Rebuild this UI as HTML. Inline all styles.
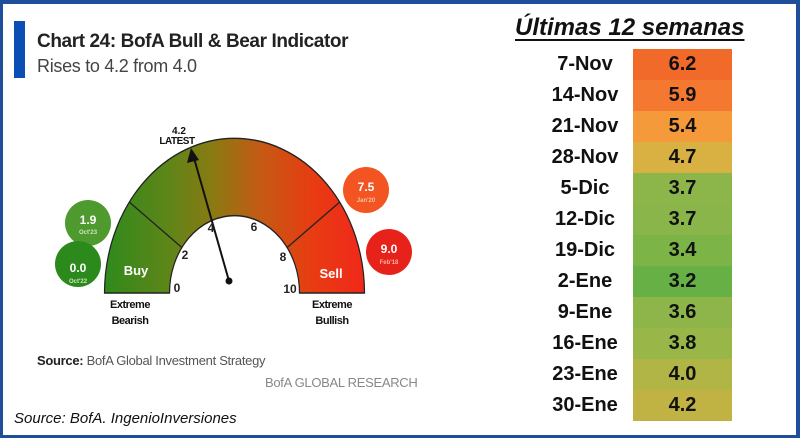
<!DOCTYPE html>
<html><head><meta charset="utf-8"><style>
html,body{margin:0;padding:0;background:#fff}
#w{position:relative;width:800px;height:438px;box-sizing:border-box;border:3px solid #1f4e9a;border-top-width:4px;border-right-width:4px;overflow:hidden;font-family:"Liberation Sans",sans-serif}
.t{position:absolute;white-space:nowrap}
.row{position:absolute;left:0;width:800px;height:31px;font-weight:bold;font-size:20px;color:#111}
.lab{position:absolute;left:525px;width:120px;text-align:center;top:4px}
.cell{position:absolute;left:633px;width:99px;height:31px;text-align:center;line-height:31px}
</style></head><body><div id="w">
<div style="position:absolute;left:11px;top:17px;width:11px;height:57px;background:#0b4fb5"></div>
<div class="t" style="left:34px;top:27px;font-size:19px;font-weight:bold;color:#222;letter-spacing:-0.4px">Chart 24: BofA Bull &amp; Bear Indicator</div>
<div class="t" style="left:34px;top:52px;font-size:18px;color:#444;letter-spacing:-0.3px">Rises to 4.2 from 4.0</div>
<svg width="800" height="438" style="position:absolute;left:-3px;top:-4px">
<defs><linearGradient id="g" x1="-130" y1="0" x2="130" y2="0" gradientUnits="userSpaceOnUse">
<stop offset="0" stop-color="#2f8a1c"/><stop offset="0.25" stop-color="#5f8518"/><stop offset="0.42" stop-color="#8a7a12"/><stop offset="0.6" stop-color="#c45a14"/><stop offset="0.8" stop-color="#e83c12"/><stop offset="1" stop-color="#f0281a"/></linearGradient></defs>
<g transform="translate(234.5,293) scale(1,1.19)">
<path d="M-130,0 A130,130 0 0 1 130,0 L65,0 A65,65 0 0 0 -65,0 Z" fill="url(#g)" stroke="#222" stroke-width="1.2"/>
<line x1="-52.6" y1="-38.2" x2="-105.2" y2="-76.4" stroke="#222" stroke-width="1.2"/>
<line x1="52.6" y1="-38.2" x2="105.2" y2="-76.4" stroke="#222" stroke-width="1.2"/>
</g>
<line x1="229" y1="281" x2="194" y2="158" stroke="#111" stroke-width="2"/>
<polygon points="191,148 187,163 199,160" fill="#111"/>
<circle cx="229" cy="281" r="3.5" fill="#111"/>
<circle cx="88" cy="223" r="23" fill="#4f9a2e"/>
<circle cx="78" cy="264" r="23" fill="#2c8a1c"/>
<circle cx="366" cy="190" r="23" fill="#f25522"/>
<circle cx="389" cy="252" r="23" fill="#e6221a"/>
<g font-family="'Liberation Sans',sans-serif" font-weight="bold" text-anchor="middle">
<text x="88" y="224" font-size="12" fill="#fff">1.9</text><text x="88" y="234" font-size="6" fill="#cfe6c0">Oct'23</text>
<text x="78" y="272" font-size="12" fill="#fff">0.0</text><text x="78" y="283" font-size="6" fill="#cfe6c0">Oct'22</text>
<text x="366" y="191" font-size="12" fill="#fff">7.5</text><text x="366" y="202" font-size="6" fill="#ffc0a0">Jan'20</text>
<text x="389" y="253" font-size="12" fill="#fff">9.0</text><text x="389" y="264" font-size="6" fill="#ffb0a0">Feb'18</text>
<text x="179" y="134" font-size="10" fill="#111">4.2</text><text x="177" y="144" font-size="10" fill="#111" letter-spacing="-0.5">LATEST</text>
<text x="136" y="275" font-size="13" fill="#fff">Buy</text><text x="331" y="278" font-size="13" fill="#fff">Sell</text>
<text x="177" y="292" font-size="12" fill="#222">0</text><text x="185" y="259" font-size="12" fill="#222">2</text>
<text x="211" y="232" font-size="12" fill="#222">4</text><text x="254" y="231" font-size="12" fill="#222">6</text>
<text x="283" y="261" font-size="12" fill="#222">8</text><text x="290" y="293" font-size="12" fill="#222">10</text>
<text x="130" y="308" font-size="11" fill="#111" letter-spacing="-0.5">Extreme</text><text x="130" y="324" font-size="11" fill="#111" letter-spacing="-0.5">Bearish</text>
<text x="332" y="308" font-size="11" fill="#111" letter-spacing="-0.5">Extreme</text><text x="332" y="324" font-size="11" fill="#111" letter-spacing="-0.5">Bullish</text>
</g>
</svg>
<div class="t" style="left:34px;top:349px;font-size:13px;color:#555;letter-spacing:-0.3px"><b style="color:#222">Source:</b> BofA Global Investment Strategy</div>
<div class="t" style="left:262px;top:371px;font-size:13px;color:#888;letter-spacing:-0.3px">BofA GLOBAL RESEARCH</div>
<div class="t" style="left:11px;top:406px;font-size:15px;font-style:italic;color:#111">Source: BofA. IngenioInversiones</div>
<div class="t" style="left:512px;top:10px;font-size:24px;font-weight:bold;font-style:italic;color:#111;text-decoration:underline;text-underline-offset:4px">Últimas 12 semanas</div>
<div style="position:absolute;left:-3px;top:45px">
<div class="row" style="top:0"><span class="lab">7-Nov</span><span class="cell" style="background:#f26a2a">6.2</span></div>
<div class="row" style="top:31px"><span class="lab">14-Nov</span><span class="cell" style="background:#f47830">5.9</span></div>
<div class="row" style="top:62px"><span class="lab">21-Nov</span><span class="cell" style="background:#f59a3a">5.4</span></div>
<div class="row" style="top:93px"><span class="lab">28-Nov</span><span class="cell" style="background:#d9b142">4.7</span></div>
<div class="row" style="top:124px"><span class="lab">5-Dic</span><span class="cell" style="background:#8db64a">3.7</span></div>
<div class="row" style="top:155px"><span class="lab">12-Dic</span><span class="cell" style="background:#8ab54a">3.7</span></div>
<div class="row" style="top:186px"><span class="lab">19-Dic</span><span class="cell" style="background:#7cb448">3.4</span></div>
<div class="row" style="top:217px"><span class="lab">2-Ene</span><span class="cell" style="background:#66b045">3.2</span></div>
<div class="row" style="top:248px"><span class="lab">9-Ene</span><span class="cell" style="background:#8db54a">3.6</span></div>
<div class="row" style="top:279px"><span class="lab">16-Ene</span><span class="cell" style="background:#99b648">3.8</span></div>
<div class="row" style="top:310px"><span class="lab">23-Ene</span><span class="cell" style="background:#b0b545">4.0</span></div>
<div class="row" style="top:341px"><span class="lab">30-Ene</span><span class="cell" style="background:#c0b243">4.2</span></div>
</div>
</div></body></html>
